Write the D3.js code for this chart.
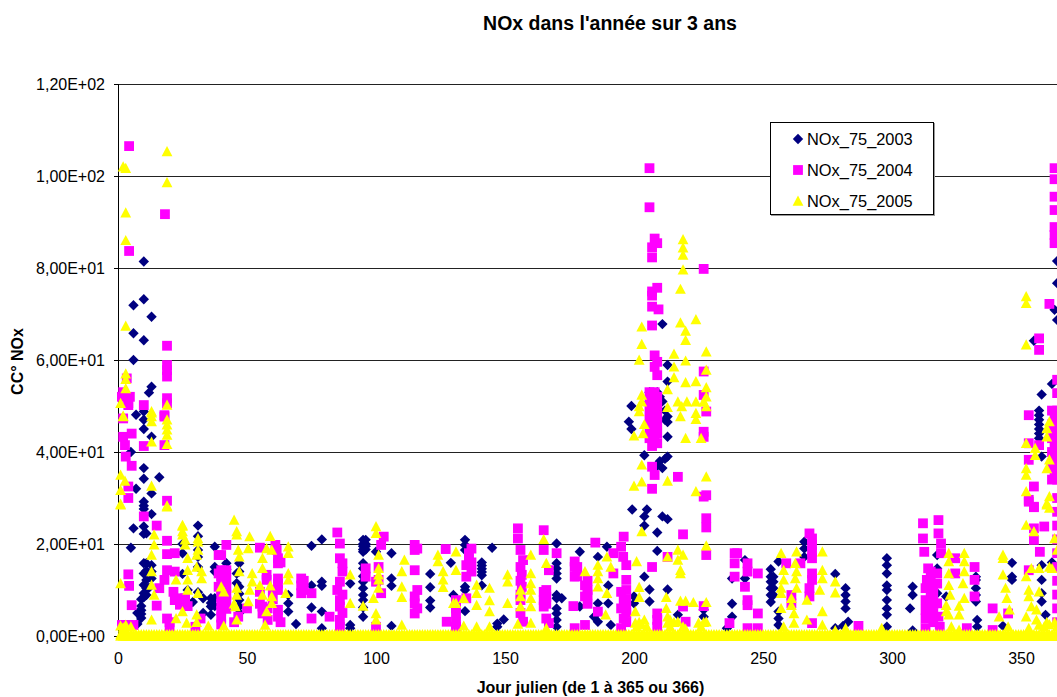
<!DOCTYPE html>
<html>
<head>
<meta charset="utf-8">
<script src="https://cdn.jsdelivr.net/npm/d3@7"></script>
<style>
html,body{margin:0;padding:0;background:#fff;overflow:hidden}
text{font-family:"Liberation Sans",Arial,sans-serif;fill:#000}
</style>
</head>
<body>
<svg id="chart" width="1057" height="697"></svg>
<script>
const chartTitle = "NOx dans l'année sur 3 ans";
const xTitle = "Jour julien (de 1 à 365 ou 366)";
const yTitle = "CC° NOx";
const seriesNames = ["NOx_75_2003", "NOx_75_2004", "NOx_75_2005"];
const seriesColors = ["#000080", "#FF00FF", "#FFFF00"];
const xTicks = [0, 50, 100, 150, 200, 250, 300, 350];
const yTicks = [0, 20, 40, 60, 80, 100, 120];
const yTickLabels = ["0,00E+00", "2,00E+01", "4,00E+01", "6,00E+01", "8,00E+01", "1,00E+02", "1,20E+02"];

// Each entry: [jour julien, [valeurs lues ce jour-là]]
const nox2003 = [
[5,[40,19.2]],[6,[71.9,65.8,60,23.4]],[7,[48.1,32]],[9,[5.6,3.9,8,6.5,4.8]],[10,[81.4,73.2,64.3,48.8,47,45,36.5,34.2,29.2,28.3,27.6,23.8,22.2,15.8,13.6,11.1,9.3,8.4]],
[11,[22.3,15.8,12.2,10.4,8.9,14.2]],[13,[69.4,54.2,43.3,31,26.5,15.4,14,12.5]],[12,[52.9,10.5]],[16,[34.5]],[7.5,[5,2.6]],
[25,[20,18,13.5]],[27,[10]],[29,[7.4]],[31,[24,21.7,18.7,17.2,9.5,15]],[33,[8.2,5]],[36,[8.2,6.4,4.6,7.2]],[37.5,[19.4,15,14,8.2,6.5]],
[42,[15.8,14.5]],[46,[13.6,11.5]],[47,[15.8,10.7,7.8,5,14,9.2,6.4]],[66,[8.9,7.1,5.3]],[69,[2.6]],[75,[19.6,11,6.2]],[79,[21,11.8,10.9,5.3,1.7]],
[90,[11.4,2.4,1.7]],[95,[20.9,20,19.5,18.8,18.3,15.8,14.7,11.8,10.4,8.9,7.8,4.2,13,6.2]],[96,[20.9,20,19.5,18.8]],[100,[18.3]],
[106,[18,12.5,10.9,2.2]],[121,[13.5,10.6,7.7,6.2]],[129,[15.9]],[130,[8.9]],[134.5,[20.9,19.8,18.7,10.7,10,5.4]],
[141,[16,15.3,14.6,13.9,13.2,11]],[145,[19.2]],[147,[2.7,2]],[149.5,[3.6]],
[170,[20.1,15.8,14.7,13.6,12.5,8.9,8.2,6,4.9,3.5,2]],[172,[8.2]],[179,[18.3,6.4]],[184.5,[4.2]],[186,[17.2,7.1,3.1]],[189.5,[19.4]],[190,[11,7.1]],[191,[2.4]],
[198,[46.6]],[199,[50,45]],[199.3,[27.5]],[200,[8.6,7.1]],[204,[39.3,26,24,12.9]],[205,[27.5]],[206,[10.1,7.5,53,51]],[207,[52.5,50,48]],[209,[22.5,18.5,53,37]],[210,[52,49,38]],
[211,[67.8,26,36.5,51]],[212,[49,47,38.5]],[213,[58.9,55.3,47.7,46.5,43.3,39,25.4,10.1]],[217,[4.6]],[227,[5.7,4.2]],[236,[1.7]],[238,[12.5,7,4.2]],
[243,[16.5,12.5]],[253,[14.5,12.9,11.8,10.4,8.9,7.4]],[254,[12.9,11.8,10.4,8.9]],[256,[16.2,5.3,3.8,2.4]],[266,[20.5,19,17.2]],[278,[13.5,1.7]],[282,[10.4,8.9,7.5,6]],[283,[3.1]],[281,[2.2]],
[298,[16.9,15.4,13.6,11,10,7.8,6,4.6,2]],[308,[10.7,8.9,1.2]],[307,[6]],[317.5,[17.6,14.7,9.3]],[321,[8.6]],[332.5,[12.9,12.2,10.4,8.9,7.5]],[333,[3.5,2]],
[343,[2.2]],[346.5,[15.9,12.9,12.2]],[355,[64.2]],[357,[49,48,47,46,45,44,43]],[358,[52.5,39,15.4,12.2,9.3,7.5]],[359.5,[4.6]],[362,[54.8,16]],[363,[70.9]],[364,[81.5,76.7,68.7]]
];

const nox2004 = [
[1.5,[52,2.4]],[2,[53,47.3,43.3]],[2.7,[41.5]],[3,[39,2.4]],[3.4,[56]],[4,[50.6,50.2,32.5,30,13.4,2.4]],[4.3,[106.5,83.7,10.9]],[4.6,[52]],[5.3,[44,37,6.7]],[6,[2.4]],
[10,[50.2,41.3,26]],[15,[24,6.6]],[16,[10.4]],[18,[47.7,41.5,48,12.2]],[18.2,[91.7]],[19,[63.1,58.9,57.8,56.4,51.7,50.6,29.4,20.7,17.8,14.3,3.8]],[20,[3,2]],[21.5,[9.6]],[22,[18,14,7.8]],[24,[8,6.8]],[25,[8.2]],[26,[8.2]],[27,[6.5]],[30,[2]],[32,[3.8]],
[39,[17.6,13.6,10.7]],[40,[17.6,14.3,13,11.5,9.8,8.5,7,5.5,4,2.5]],[42,[19.8,14.3,12.2,10.5,9,7.5,5.9]],[45,[3]],[46.6,[4.2]],[50,[6]],[55,[19.2,9.6,7]],[56,[6.4,4.9]],[57.6,[13.3,12.2]],[58,[6,3.5]],[60,[10,8]],[61,[19.8]],[61.5,[18.7]],[62,[16.9,15.8,12.5,11.4,10,5.7,4.2]],[63,[16,3]],
[71,[12.5,11,9.3]],[72,[12,10]],[75,[9.3,3.8]],[82,[4.2]],[85,[22.5,10]],[86,[20.1,16.9,11.8,7.8,6.4,3.5,2]],[87,[15.8,9,5,14]],[96,[14.7,12.9]],[100,[11.8,2]],[101,[12.2,15]],[102,[19.8,9.3]],[103,[21.6]],
[115,[19.8,18.7,14.3,8.6,7.1,4.9]],[116,[19,10,6]],[127,[18.9]],[127.4,[3.1]],[131,[7.8,4.9,2,7,6,3,1]],[135,[15.4,12.9,8.2]],[136,[17.2,18]],[137,[19,16,14]],
[155,[23.4,21.2]],[156,[18.7,7.8,15,12,9,5]],[156.5,[13.3,10.7]],[157,[16.5,3.1]],[165,[23,18.7,9.6,7.8,6.4]],[166,[3.8,10,8.5,7]],[167,[14.3,2.8]],[170,[18]],[176.5,[6.5]],[177,[16.2,12.9,1.7,15]],[178,[15,13]],[181,[11,8.6,2.4]],[182,[12,10,9,7]],[185,[20.3]],[186,[5.3]],
[192,[18,13.6]],[195,[19.4,9.6,6,1.7]],[195.8,[17.2]],[196,[21.6,7.8,3.8]],[197,[15.4,12.2,10,8,6,5,3]],
[206,[101.7,93.2,53,51,49,47,45,43]],[207,[84.5,82.3,74.9,74,71.6,67.5,52,50,48,46,44,41.3,36.8,32,15]],[208,[86.4,61,58.5,53,51,49,47,45,43,35]],[209,[85.4,75.7,59.6,56.7,52,50,48,46,44,41.9,4.9,3.5,2]],[209.5,[71]],
[213,[17.2]],[217,[34.6]],[219,[22.1,6.4]],[220,[3.1]],[227,[79.8,57.5,52.4,44.4,43.3,30.3,6.5]],[228,[48.8,25.6,23.6,17.6,30.6]],
[237,[2.8]],[239,[18,15.8,12.9]],[240,[18]],[243,[10.7]],[244,[15.8,14,7.8,6.7,1.7]],[248,[13.6,4.9,1.7]],[259,[15.8]],[261,[8.9,7.1]],[264.5,[15.8]],[268,[22.3,10.4,8.6]],[269,[21.2,19.8,18.3,16.9,13.6,12.2,2.8]],[287,[2.2]],
[312,[24.5,21.2]],[312.5,[18.3]],[313,[10.4,7.8,5.7,3.8,1.7]],[313.5,[12.2]],[314,[14.7]],[315,[14,12,10,8,6,4]],[316,[11,9,7,5,3]],[317.5,[13.6,11.4,7.1]],[318,[25.2,22.3,4.2]],[318.5,[2]],[319,[20.1,18]],[324.5,[16.9,13.6]],[329,[1.7]],[332,[15,12.2,8.6]],[339,[6,1.3]],[345,[4.9]],
[353,[48,41.9,38.3,29.6,29.2,14.3]],[355,[32.5,28.1,28,23.4,20.9]],[357,[64.7,62.2,41.5]],[357.3,[18.3]],[359,[23.8]],[361,[72.2]],[362,[49,46,43,40,37,34]],
[363,[101.7,99.3,95.5,92.6,88.9,87.2,85.4,47.5,44.5,41.5,38.5,35.5]],[364,[55.7,52.8,49,46,43,40,37,34,30,27,24,21,18,15,12,9,6,3]]
];

const nox2005 = [
[1,[50.6,35,31.7,28.7,28.5,11.4,2.2]],[2,[102,47.8,47.7,1.8]],[2.7,[33.7]],[3,[101.7,92,86,67.4,57,55.8,53.8,2.4]],[5,[2]],
[13,[48.8,48.5,47.7,46.6,42.2,32.6,17.6,14,11.1,3.5]],[14,[22,19.8,8.9]],[19,[105.3,98.6,50.2,47,45.9,44.8,43.7,41.7,28.3,28.1]],[22.5,[12.2,3.8]],
[25,[24.1,23.9,22.7,22,5.3]],[26,[20.9,19.8]],[26.6,[2.8]],[27,[16.9,14.3,12.2,10]],[30.5,[17.6,15,4.6,3]],[31,[21.2,20.5,18.7,9.3]],[32.4,[14,12.5]],[35,[2.2]],
[40,[10.7]],[41,[9.6,2.2]],[45,[25.2,7]],[45.5,[6.4]],[46,[22.7,22,10.4,8.9,3.5]],[46.6,[18.7]],[47,[17.2,14]],[50.5,[19,7.5]],[51,[21.6,10]],[52,[13.6,11.8]],
[55,[11]],[56,[16.9,14.7,8.9]],[57,[2.4]],[57.6,[19,5.3]],[59,[21.7,10.9]],[59.6,[18.7,8.6,7.1]],[65,[9.3]],[66,[19.4,18,13.6,12.2]],
[90,[13.3,7.1]],[95,[6.5]],[99,[8.2]],[100,[23.8,22.3,4.9,3.5]],[101,[17.6,14.7,13.3,12.2,10.4]],[110,[14,10.7,8.4,2.4]],[111,[16.5]],
[124,[17.6,16.2]],[126,[14,12.2,10.6]],[130,[7.1]],[131,[18.3,14.3,7.1]],[134,[8.2,2.2]],[139,[11.1,9.3,6.7,2]],[144,[10.4,7.7,5.3,2]],[151,[13.3,11.8,7.1]],
[155,[2.6]],[156,[10,8.6,6.4]],[160,[17.6,13.6,11.4,10,8.2,6.4,2.8]],[165,[21]],[166,[15.8,1.7]],[181,[14]],[186,[15.4,14,12.5,10.7]],[189,[4.6]],[189.5,[17.2,9.3]],[191,[15]],
[200,[43.5,32.6]],[200.5,[5.3,2.8]],[201,[16.2,2]],[202,[60,49.9,48.8,10.6,8.4,3]],[203,[67.2,63.4,52.4,50.9,37.2,33.5,22.7,2.5]],[203.5,[44]],[204,[46,3.5]],[205,[2]],
[212.5,[8.4,6]],[213,[53.6,49.7,33.7,17.2,4.2,2.8]],[214,[3.5,2]],[215.5,[61.3,58.5,56.2,3]],[217,[50.9,18.7,16.5,3.1]],[218,[75.4,68.1,47.7,14.3,13.6,7.6]],[218.5,[49.9]],[219,[86.2,84.4,82.8,79.6,17.6,2]],[220,[66.3,64.3,59.8,55.1,43,7.6,1.5]],[220.5,[50.9]],
[223,[7.3]],[224,[68.8,55.3,50.9,48.4,47.1,31.4]],[225,[2.8]],[226,[43,2]],[227,[50.9,3]],[228,[61.8,57.8,54,52,49.9,34.6,19.6,7.3,3.1]],
[257,[18,10.4,9.3,6]],[258,[14.3,12.2,2]],[261,[8.2,6.7]],[262,[4.9,2.8]],[262.5,[15.8,12.5]],[263,[18.3,14,10.4]],[267,[7.8,3.5]],[272,[10]],[273,[18.3,14.3,12.5,5.3,2.4]],[278,[11.8,9.4,1.2]],[282,[1.7]],[296,[1.7]],
[321,[6.7,5.3]],[322,[18,16.2,13.6,11,4.6]],[322.5,[8.9]],[323,[2]],[326,[6.5,4.6,1.3]],[327.5,[11.4]],[328,[18,16.2,14,8.2]],
[341.5,[4.2]],[343,[17.6,16.9,13.3]],[344,[10.4]],[344.5,[8.2]],[345,[2]],[345.5,[5.7]],
[352,[73.8,72.3,63.3,41.9,36.4,35,31.4,24.1,12.9,4.2]],[353,[10,8.6,1.7]],[354,[14.7,6.4]],[355,[22.7]],[355.5,[40.8,39.3]],[356,[5.7,3.5]],[357,[14.7,9.6,2.4]],
[359,[2]],[360,[45.1,43.3,36.4,28.8,28.5,3]],[361,[46.6,38.3,30.3,27.8,15,2.5]],[362,[14.7]],[363,[21.2,3]],[364,[18.7,2]]
];

// Jours de la bande de valeurs nulles (relevés à 0 ; la série y a aussi une valeur d'environ 0,3)
const zeroDays2005 = [1,2,3,4,5,6,7,8,9,10,11,12,13,14,15,16,17,18,19,20,21,22,23,24,25,26,27,28,29,30,31,32,33,34,35,36,37,38,39,40,41,42,43,44,45,46,47,48,49,50,51,52,53,54,55,56,57,58,59,60,61,62,63,64,65,66,67,68,69,70,71,72,73,74,75,76,77,78,79,80,81,82,83,84,85,86,87,88,89,90,91,92,93,94,95,96,97,98,99,100,101,102,103,104,105,106,107,108,109,110,111,112,113,114,115,116,117,118,119,120,121,122,123,124,125,126,127,128,129,130,131,132,133,134,135,136,137,138,139,140,141,142,143,144,145,146,147,148,149,150,151,152,153,154,155,156,157,158,159,160,161,162,163,164,165,166,167,168,169,170,171,172,173,174,175,176,177,178,179,180,181,182,183,184,185,186,187,188,189,190,191,192,193,194,195,196,197,198,199,200,201,202,203,204,205,206,207,208,209,210,211,212,213,214,215,216,217,218,219,220,221,222,223,224,225,226,227,228,229,230,231,232,233,234,235,236,237,238,239,240,241,242,243,244,245,246,247,248,249,250,251,252,253,254,255,256,257,258,259,260,261,262,263,264,265,266,267,268,269,270,271,272,273,274,275,276,277,278,279,280,281,282,283,284,285,286,287,288,289,290,291,292,293,294,295,296,297,298,299,300,301,302,303,304,305,306,307,308,309,310,311,312,313,314,315,316,317,318,319,320,321,322,323,324,325,326,327,328,329,330,331,332,333,334,335,336,337,338,339,340,341,342,343,344,345,346,347,348,349,350,351,352,353,354,355,356,357,358,359,360,361,362,363,364,365];
const bandLevels2005 = [0, 0.3];

const flatten = rows => rows.flatMap(([day, vals]) => vals.map(v => ({day, v})));
const seriesPoints = [
  flatten(nox2003),
  flatten(nox2004),
  flatten(nox2005).concat(bandLevels2005.flatMap(v => zeroDays2005.map(day => ({day, v}))))
];

const svg = d3.select("#chart");
const x = d3.scaleLinear().domain([0, 366]).range([118, 1062.3]);
const y = d3.scaleLinear().domain([0, 120]).range([636, 84]);

// marker shapes
const diamond = {draw(c){ const r = 5.2; c.moveTo(0,-r); c.lineTo(r,0); c.lineTo(0,r); c.lineTo(-r,0); c.closePath(); }};
const square  = {draw(c){ const r = 4.9; c.moveTo(-r,-r); c.lineTo(r,-r); c.lineTo(r,r); c.lineTo(-r,r); c.closePath(); }};
const triangle= {draw(c){ const w = 5.4; c.moveTo(0,-5.5); c.lineTo(w,4.7); c.lineTo(-w,4.7); c.closePath(); }};
const shapes = [diamond, square, triangle];
const symbolPath = i => d3.symbol().type(shapes[i])();

// grid lines
svg.append("g").selectAll("line").data(yTicks.filter(d => d > 0)).join("line")
  .attr("x1", x(0)).attr("x2", 1057)
  .attr("y1", d => Math.round(y(d)) + 0.5).attr("y2", d => Math.round(y(d)) + 0.5)
  .attr("stroke", "#222").attr("stroke-width", 1).attr("shape-rendering", "crispEdges");

// axes
const yAxis = d3.axisLeft(y).tickValues(yTicks).tickFormat((d, i) => yTickLabels[i]).tickSizeOuter(0).tickSize(4).tickPadding(9);
const gy = svg.append("g").attr("transform", `translate(${x(0)},0)`).call(yAxis);
const xAxis = d3.axisBottom(x).tickValues(xTicks).tickSizeOuter(0).tickSize(4).tickPadding(13);
const gx = svg.append("g").attr("transform", `translate(0,${y(0)})`).call(xAxis);
[gy, gx].forEach(g => {
  g.selectAll("text").attr("font-size", 16).attr("font-family", '"Liberation Sans",Arial,sans-serif');
  g.selectAll("line,path").attr("stroke", "#000").attr("shape-rendering", "crispEdges");
});

// points
seriesPoints.forEach((pts, i) => {
  svg.append("g").selectAll("path").data(pts).join("path")
    .attr("d", symbolPath(i))
    .attr("fill", seriesColors[i])
    .attr("transform", d => `translate(${x(d.day)},${y(d.v)})`);
});

// titles
svg.append("text").attr("x", 610).attr("y", 30).attr("text-anchor", "middle")
  .attr("font-size", 19.5).attr("font-weight", "bold").text(chartTitle);
svg.append("text").attr("x", 590.5).attr("y", 693).attr("text-anchor", "middle")
  .attr("font-size", 16).attr("font-weight", "bold").text(xTitle);
svg.append("text").attr("transform", "translate(23,361.5) rotate(-90)").attr("text-anchor", "middle")
  .attr("font-size", 16).attr("font-weight", "bold").text(yTitle);

// legend
const lg = svg.append("g");
lg.append("rect").attr("x", 771.5).attr("y", 123.5).attr("width", 163).attr("height", 92)
  .attr("fill", "none").attr("stroke", "#999").attr("stroke-width", 1).attr("shape-rendering", "crispEdges");
lg.append("rect").attr("x", 770.5).attr("y", 122.5).attr("width", 163).attr("height", 92)
  .attr("fill", "#fff").attr("stroke", "#000").attr("stroke-width", 1).attr("shape-rendering", "crispEdges");
seriesNames.forEach((name, i) => {
  const ly = 139 + i * 31;
  lg.append("path").attr("d", symbolPath(i)).attr("fill", seriesColors[i])
    .attr("transform", `translate(798,${ly})`);
  lg.append("text").attr("x", 807).attr("y", ly + 5.5).attr("font-size", 16.4).text(name);
});
</script>
</body>
</html>
